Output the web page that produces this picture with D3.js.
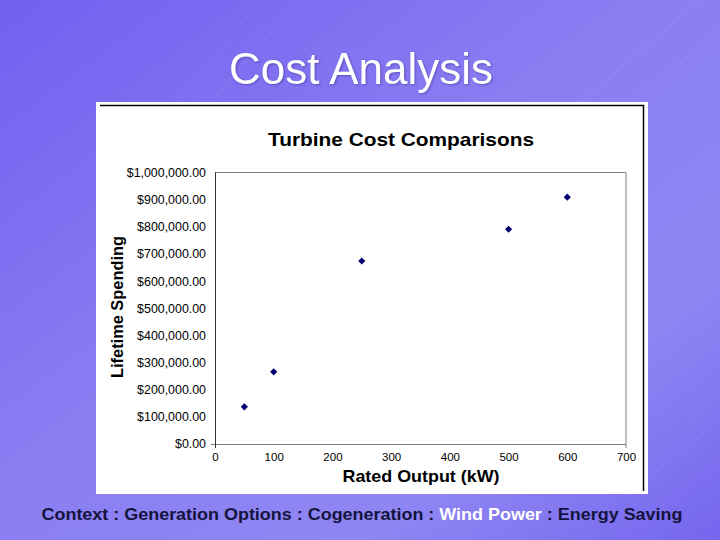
<!DOCTYPE html>
<html>
<head>
<meta charset="utf-8">
<script src="https://cdn.jsdelivr.net/npm/d3@7"></script>
<style>
  html, body { margin: 0; padding: 0; }
  body { width: 720px; height: 540px; overflow: hidden; }
  svg { display: block; }
</style>
</head>
<body>
<svg id="chart" width="720" height="540"></svg>
<script>
// ---- data ----
const ratedOutput = [50, 100, 250, 500, 600];                 // kW
const lifetimeSpending = [137000, 266000, 674000, 791000, 909000]; // $
const xTicks = [0, 100, 200, 300, 400, 500, 600, 700];
const yTicks = [0, 100000, 200000, 300000, 400000, 500000, 600000, 700000, 800000, 900000, 1000000];
const pageTitle = "Cost Analysis";
const chartTitle = "Turbine Cost Comparisons";
const xTitle = "Rated Output (kW)";
const yTitle = "Lifetime Spending";
const footerParts = ["Context : Generation Options : Cogeneration : ", "Wind Power", " : Energy Saving"];
const footerHighlight = [false, true, false];

const svg = d3.select("#chart");
const defs = svg.append("defs");

// background gradient
const bg = defs.append("linearGradient").attr("id", "bg")
  .attr("x1", "0").attr("y1", "0").attr("x2", "1").attr("y2", "1");
bg.append("stop").attr("offset", "0%").attr("stop-color", "#735ff0");
bg.append("stop").attr("offset", "45%").attr("stop-color", "#8a7ef2");
bg.append("stop").attr("offset", "75%").attr("stop-color", "#8f86f3");
bg.append("stop").attr("offset", "100%").attr("stop-color", "#7566ee");
svg.append("rect").attr("width", 720).attr("height", 540).attr("fill", "url(#bg)");

// faint decorative diagonal lines
const deco = svg.append("g").attr("stroke", "#ffffff").attr("stroke-opacity", 0.06).attr("fill", "none");
[[150, 140, 260, 0], [170, 150, 290, 10], [560, 120, 700, 0], [600, 130, 720, 30], [640, 470, 720, 390], [620, 500, 720, 420]]
  .forEach(l => deco.append("line").attr("x1", l[0]).attr("y1", l[1]).attr("x2", l[2]).attr("y2", l[3]).attr("stroke-width", 1.2));

// page title
svg.append("text").attr("x", 361).attr("y", 84).attr("text-anchor", "middle")
  .attr("font-family", "Liberation Sans, Arial, sans-serif").attr("font-size", 44)
  .attr("fill", "#ffffff")
  .style("filter", "drop-shadow(1px 1px 1px rgba(60,40,140,0.5))")
  .text(pageTitle);

// white chart panel
svg.append("rect").attr("x", 96).attr("y", 102).attr("width", 552).attr("height", 392).attr("fill", "#ffffff");
svg.append("path").attr("d", "M100,105.5H643.5V491").attr("fill", "none").attr("stroke", "#000").attr("stroke-width", 1.5);

// scales
const plot = { left: 215, top: 172.5, right: 626, bottom: 444 };
const x = d3.scaleLinear().domain([0, 700]).range([plot.left, plot.right]);
const y = d3.scaleLinear().domain([0, 1000000]).range([plot.bottom, plot.top]);

const font = "Liberation Sans, Arial, sans-serif";

// plot area border (top, right) in gray
svg.append("path")
  .attr("d", `M${plot.left},${plot.top}H${plot.right}V${plot.bottom + 4}`)
  .attr("fill", "none").attr("stroke", "#808080").attr("stroke-width", 1);

// x axis
const xAxis = d3.axisBottom(x).tickValues(xTicks).tickSize(0).tickPadding(9).tickFormat(d3.format("d"));
const gx = svg.append("g").attr("transform", `translate(0,${plot.bottom})`).call(xAxis);
gx.select(".domain").attr("stroke", "#808080").attr("d", `M${plot.left - 4},0.5H${plot.right}`);
gx.selectAll("text").attr("font-family", font).attr("font-size", 11.5).attr("fill", "#000");

// y axis
const yAxis = d3.axisLeft(y).tickValues(yTicks).tickSize(0).tickPadding(9)
  .tickFormat(d => "$" + d3.format(",.2f")(d));
const gy = svg.append("g").attr("transform", `translate(${plot.left},0)`).call(yAxis);
gy.select(".domain").attr("stroke", "#333").attr("d", `M0.5,${plot.top}V${plot.bottom + 4}`);
gy.selectAll("text").attr("font-family", font).attr("font-size", 12.4).attr("fill", "#000");

// markers: diamonds (square rotated 45°)
const marker = d3.symbol().type(d3.symbolSquare).size(26);
svg.append("g").selectAll("path")
  .data(ratedOutput.map((v, i) => ({ x: v, y: lifetimeSpending[i] })))
  .join("path")
  .attr("d", marker)
  .attr("transform", d => `translate(${x(d.x)},${y(d.y)}) rotate(45)`)
  .attr("fill", "#000070");

// chart title
svg.append("text").attr("x", 401).attr("y", 146).attr("text-anchor", "middle")
  .attr("font-family", font).attr("font-weight", "bold").attr("font-size", 18.5).attr("fill", "#000")
  .attr("textLength", 266).attr("lengthAdjust", "spacingAndGlyphs")
  .text(chartTitle);

// x title
svg.append("text").attr("x", 421).attr("y", 482).attr("text-anchor", "middle")
  .attr("font-family", font).attr("font-weight", "bold").attr("font-size", 17).attr("fill", "#000")
  .attr("textLength", 157).attr("lengthAdjust", "spacingAndGlyphs")
  .text(xTitle);

// y title
svg.append("text").attr("transform", "translate(123,307) rotate(-90)").attr("text-anchor", "middle")
  .attr("font-family", font).attr("font-weight", "bold").attr("font-size", 16.5).attr("fill", "#000")
  .attr("textLength", 142).attr("lengthAdjust", "spacingAndGlyphs")
  .text(yTitle);

// footer
const footer = svg.append("text").attr("x", 362).attr("y", 520).attr("text-anchor", "middle")
  .attr("font-family", font).attr("font-weight", "bold").attr("font-size", 16.5);
footerParts.forEach((t, i) => {
  footer.append("tspan").attr("fill", footerHighlight[i] ? "#ffffff" : "#14143c").text(t);
});
footer.attr("textLength", 641).attr("lengthAdjust", "spacingAndGlyphs");
</script>
</body>
</html>
